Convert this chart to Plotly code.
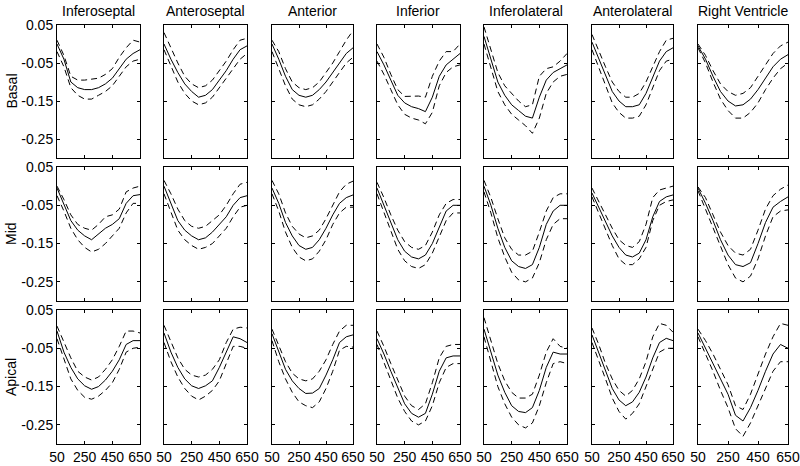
import plotly.graph_objects as go

# ---------------- data ----------------
time_ms = [50, 100, 150, 200, 250, 300, 350, 400, 450, 500, 550, 600, 650]
segments = ["Inferoseptal", "Anteroseptal", "Anterior", "Inferior",
            "Inferolateral", "Anterolateral", "Right Ventricle"]
levels = ["Basal", "Mid", "Apical"]
x_tick_vals = [50, 250, 450, 650]
y_tick_vals = [0.05, -0.05, -0.15, -0.25]
y_tick_text = ["0.05", "-0.05", "-0.15", "-0.25"]

# Basal
basal_inferoseptal_mean = [0.0, -0.04, -0.10, -0.115, -0.12, -0.12, -0.115, -0.105, -0.09, -0.065, -0.04, -0.025, -0.015]
basal_inferoseptal_upper = [0.01, -0.03, -0.085, -0.095, -0.095, -0.093, -0.09, -0.08, -0.065, -0.035, -0.01, 0.01, 0.005]
basal_inferoseptal_lower = [-0.02, -0.06, -0.115, -0.135, -0.145, -0.145, -0.135, -0.125, -0.11, -0.085, -0.06, -0.045, -0.04]

basal_anteroseptal_mean = [0.0, -0.04, -0.075, -0.105, -0.125, -0.14, -0.135, -0.12, -0.095, -0.07, -0.04, -0.015, -0.005]
basal_anteroseptal_upper = [0.03, -0.01, -0.05, -0.085, -0.105, -0.115, -0.11, -0.095, -0.07, -0.045, -0.015, 0.01, 0.015]
basal_anteroseptal_lower = [-0.015, -0.06, -0.10, -0.13, -0.15, -0.16, -0.155, -0.14, -0.115, -0.09, -0.065, -0.04, -0.025]

basal_anterior_mean = [0.0, -0.04, -0.085, -0.12, -0.135, -0.14, -0.135, -0.12, -0.10, -0.075, -0.05, -0.025, -0.01]
basal_anterior_upper = [0.01, -0.02, -0.065, -0.10, -0.115, -0.12, -0.115, -0.10, -0.075, -0.05, -0.02, 0.01, 0.035]
basal_anterior_lower = [-0.02, -0.065, -0.11, -0.145, -0.16, -0.165, -0.16, -0.145, -0.125, -0.10, -0.075, -0.05, -0.035]

basal_inferior_mean = [-0.02, -0.055, -0.095, -0.135, -0.155, -0.165, -0.17, -0.178, -0.14, -0.085, -0.055, -0.04, -0.025]
basal_inferior_upper = [0.0, -0.035, -0.08, -0.12, -0.138, -0.138, -0.137, -0.14, -0.085, -0.045, -0.02, -0.02, 0.0]
basal_inferior_lower = [-0.045, -0.08, -0.12, -0.16, -0.185, -0.195, -0.20, -0.21, -0.18, -0.11, -0.075, -0.06, -0.055]

basal_inferolateral_mean = [0.02, -0.04, -0.10, -0.135, -0.16, -0.175, -0.19, -0.195, -0.14, -0.095, -0.075, -0.065, -0.055]
basal_inferolateral_upper = [0.045, -0.015, -0.075, -0.11, -0.13, -0.15, -0.165, -0.16, -0.085, -0.065, -0.06, -0.045, -0.025]
basal_inferolateral_lower = [0.0, -0.065, -0.125, -0.16, -0.185, -0.20, -0.215, -0.235, -0.195, -0.13, -0.10, -0.085, -0.08]

basal_anterolateral_mean = [0.005, -0.04, -0.085, -0.125, -0.15, -0.165, -0.165, -0.16, -0.13, -0.085, -0.045, -0.02, -0.01]
basal_anterolateral_upper = [0.025, -0.02, -0.06, -0.10, -0.125, -0.14, -0.14, -0.13, -0.10, -0.06, -0.02, 0.01, 0.015]
basal_anterolateral_lower = [-0.015, -0.06, -0.11, -0.155, -0.18, -0.195, -0.195, -0.19, -0.16, -0.115, -0.07, -0.045, -0.04]

basal_rv_mean = [-0.005, -0.04, -0.085, -0.125, -0.15, -0.163, -0.16, -0.145, -0.12, -0.09, -0.06, -0.04, -0.028]
basal_rv_upper = [0.0, -0.03, -0.07, -0.105, -0.125, -0.135, -0.13, -0.115, -0.085, -0.055, -0.025, -0.005, 0.005]
basal_rv_lower = [-0.01, -0.05, -0.10, -0.145, -0.175, -0.195, -0.195, -0.18, -0.155, -0.12, -0.09, -0.065, -0.05]

# Mid
mid_inferoseptal_mean = [-0.005, -0.05, -0.09, -0.115, -0.13, -0.14, -0.125, -0.11, -0.10, -0.085, -0.045, -0.025, -0.022]
mid_inferoseptal_upper = [0.0, -0.035, -0.075, -0.10, -0.11, -0.115, -0.10, -0.08, -0.075, -0.06, -0.015, -0.005, 0.0]
mid_inferoseptal_lower = [-0.025, -0.065, -0.11, -0.14, -0.16, -0.172, -0.165, -0.15, -0.13, -0.11, -0.07, -0.045, -0.045]

mid_anteroseptal_mean = [0.0, -0.045, -0.09, -0.115, -0.13, -0.14, -0.135, -0.12, -0.10, -0.08, -0.05, -0.03, -0.025]
mid_anteroseptal_upper = [0.015, -0.02, -0.06, -0.09, -0.105, -0.11, -0.105, -0.09, -0.075, -0.05, -0.02, 0.005, 0.01]
mid_anteroseptal_lower = [-0.02, -0.065, -0.115, -0.14, -0.155, -0.165, -0.16, -0.15, -0.13, -0.11, -0.08, -0.055, -0.05]

mid_anterior_mean = [-0.005, -0.045, -0.095, -0.13, -0.155, -0.165, -0.16, -0.14, -0.11, -0.075, -0.045, -0.03, -0.023]
mid_anterior_upper = [0.015, -0.02, -0.07, -0.105, -0.125, -0.135, -0.13, -0.115, -0.085, -0.05, -0.015, 0.005, 0.013]
mid_anterior_lower = [-0.02, -0.065, -0.12, -0.16, -0.185, -0.195, -0.19, -0.17, -0.14, -0.10, -0.07, -0.055, -0.055]

mid_inferior_mean = [-0.005, -0.05, -0.10, -0.14, -0.17, -0.185, -0.19, -0.18, -0.15, -0.105, -0.065, -0.05, -0.05]
mid_inferior_upper = [0.01, -0.03, -0.075, -0.115, -0.145, -0.16, -0.165, -0.155, -0.12, -0.075, -0.045, -0.035, -0.035]
mid_inferior_lower = [-0.02, -0.07, -0.12, -0.165, -0.195, -0.21, -0.215, -0.205, -0.175, -0.13, -0.09, -0.07, -0.07]

mid_inferolateral_mean = [0.0, -0.05, -0.11, -0.16, -0.195, -0.21, -0.215, -0.205, -0.16, -0.10, -0.065, -0.05, -0.05]
mid_inferolateral_upper = [0.015, -0.03, -0.085, -0.135, -0.165, -0.18, -0.18, -0.17, -0.12, -0.065, -0.03, -0.02, -0.02]
mid_inferolateral_lower = [-0.015, -0.07, -0.135, -0.185, -0.225, -0.245, -0.25, -0.24, -0.20, -0.14, -0.10, -0.085, -0.085]

mid_anterolateral_mean = [-0.018, -0.055, -0.09, -0.13, -0.16, -0.18, -0.185, -0.175, -0.14, -0.08, -0.04, -0.028, -0.023]
mid_anterolateral_upper = [-0.005, -0.04, -0.075, -0.11, -0.14, -0.155, -0.16, -0.145, -0.10, -0.03, -0.01, -0.005, 0.0]
mid_anterolateral_lower = [-0.028, -0.07, -0.11, -0.155, -0.19, -0.205, -0.205, -0.19, -0.16, -0.09, -0.05, -0.04, -0.036]

mid_rv_mean = [-0.005, -0.045, -0.09, -0.14, -0.18, -0.205, -0.21, -0.20, -0.15, -0.095, -0.055, -0.04, -0.028]
mid_rv_upper = [-0.002, -0.03, -0.075, -0.12, -0.155, -0.175, -0.18, -0.165, -0.115, -0.06, -0.025, -0.008, 0.003]
mid_rv_lower = [-0.012, -0.06, -0.11, -0.16, -0.205, -0.24, -0.25, -0.235, -0.19, -0.13, -0.08, -0.065, -0.062]

# Apical
apical_inferoseptal_mean = [-0.005, -0.06, -0.10, -0.13, -0.148, -0.157, -0.15, -0.133, -0.11, -0.08, -0.04, -0.03, -0.03]
apical_inferoseptal_upper = [0.008, -0.035, -0.075, -0.11, -0.125, -0.133, -0.125, -0.105, -0.08, -0.045, -0.005, -0.005, -0.01]
apical_inferoseptal_lower = [-0.025, -0.075, -0.13, -0.16, -0.178, -0.183, -0.175, -0.16, -0.14, -0.105, -0.06, -0.05, -0.047]

apical_anteroseptal_mean = [-0.01, -0.06, -0.10, -0.13, -0.148, -0.155, -0.148, -0.135, -0.10, -0.06, -0.02, -0.025, -0.035]
apical_anteroseptal_upper = [0.01, -0.035, -0.075, -0.105, -0.12, -0.125, -0.12, -0.105, -0.08, -0.035, 0.0, 0.005, 0.003]
apical_anteroseptal_lower = [-0.035, -0.085, -0.125, -0.155, -0.175, -0.185, -0.175, -0.16, -0.135, -0.09, -0.045, -0.045, -0.05]

apical_anterior_mean = [-0.012, -0.06, -0.105, -0.135, -0.155, -0.168, -0.167, -0.155, -0.12, -0.08, -0.035, -0.02, -0.015]
apical_anterior_upper = [0.0, -0.045, -0.085, -0.115, -0.13, -0.135, -0.13, -0.11, -0.08, -0.04, -0.005, 0.01, 0.01]
apical_anterior_lower = [-0.03, -0.085, -0.13, -0.165, -0.19, -0.20, -0.205, -0.19, -0.155, -0.11, -0.055, -0.045, -0.047]

apical_inferior_mean = [-0.025, -0.065, -0.11, -0.155, -0.195, -0.22, -0.23, -0.22, -0.17, -0.11, -0.075, -0.07, -0.07]
apical_inferior_upper = [-0.005, -0.045, -0.09, -0.135, -0.175, -0.20, -0.21, -0.195, -0.14, -0.075, -0.045, -0.04, -0.04]
apical_inferior_lower = [-0.04, -0.085, -0.13, -0.18, -0.215, -0.24, -0.25, -0.24, -0.20, -0.14, -0.10, -0.09, -0.09]

apical_inferolateral_mean = [0.0, -0.06, -0.12, -0.165, -0.20, -0.215, -0.218, -0.205, -0.16, -0.10, -0.06, -0.065, -0.065]
apical_inferolateral_upper = [0.03, -0.03, -0.09, -0.135, -0.165, -0.18, -0.18, -0.17, -0.12, -0.06, -0.025, -0.045, -0.05]
apical_inferolateral_lower = [-0.02, -0.085, -0.15, -0.195, -0.23, -0.25, -0.258, -0.245, -0.20, -0.14, -0.09, -0.085, -0.09]

apical_anterolateral_mean = [-0.015, -0.06, -0.11, -0.155, -0.185, -0.20, -0.19, -0.165, -0.125, -0.075, -0.035, -0.024, -0.03]
apical_anterolateral_upper = [0.003, -0.04, -0.09, -0.13, -0.16, -0.175, -0.16, -0.13, -0.085, -0.02, 0.015, 0.01, -0.008]
apical_anterolateral_lower = [-0.035, -0.08, -0.13, -0.18, -0.215, -0.235, -0.22, -0.195, -0.15, -0.105, -0.06, -0.05, -0.05]

apical_rv_mean = [-0.01, -0.05, -0.09, -0.13, -0.17, -0.225, -0.24, -0.205, -0.16, -0.11, -0.065, -0.04, -0.05]
apical_rv_upper = [0.0, -0.03, -0.065, -0.105, -0.145, -0.20, -0.21, -0.17, -0.115, -0.065, -0.02, 0.015, 0.01]
apical_rv_lower = [-0.02, -0.065, -0.11, -0.16, -0.205, -0.26, -0.28, -0.245, -0.20, -0.155, -0.11, -0.085, -0.085]

panels = [
    [(basal_inferoseptal_mean, basal_inferoseptal_upper, basal_inferoseptal_lower),
     (basal_anteroseptal_mean, basal_anteroseptal_upper, basal_anteroseptal_lower),
     (basal_anterior_mean, basal_anterior_upper, basal_anterior_lower),
     (basal_inferior_mean, basal_inferior_upper, basal_inferior_lower),
     (basal_inferolateral_mean, basal_inferolateral_upper, basal_inferolateral_lower),
     (basal_anterolateral_mean, basal_anterolateral_upper, basal_anterolateral_lower),
     (basal_rv_mean, basal_rv_upper, basal_rv_lower)],
    [(mid_inferoseptal_mean, mid_inferoseptal_upper, mid_inferoseptal_lower),
     (mid_anteroseptal_mean, mid_anteroseptal_upper, mid_anteroseptal_lower),
     (mid_anterior_mean, mid_anterior_upper, mid_anterior_lower),
     (mid_inferior_mean, mid_inferior_upper, mid_inferior_lower),
     (mid_inferolateral_mean, mid_inferolateral_upper, mid_inferolateral_lower),
     (mid_anterolateral_mean, mid_anterolateral_upper, mid_anterolateral_lower),
     (mid_rv_mean, mid_rv_upper, mid_rv_lower)],
    [(apical_inferoseptal_mean, apical_inferoseptal_upper, apical_inferoseptal_lower),
     (apical_anteroseptal_mean, apical_anteroseptal_upper, apical_anteroseptal_lower),
     (apical_anterior_mean, apical_anterior_upper, apical_anterior_lower),
     (apical_inferior_mean, apical_inferior_upper, apical_inferior_lower),
     (apical_inferolateral_mean, apical_inferolateral_upper, apical_inferolateral_lower),
     (apical_anterolateral_mean, apical_anterolateral_upper, apical_anterolateral_lower),
     (apical_rv_mean, apical_rv_upper, apical_rv_lower)],
]

# ---------------- layout ----------------
W, H = 800, 466
col_px = [(57, 140), (164, 247), (272, 353), (377, 460), (484, 567), (592, 673), (698, 788)]
row_px = [(25, 158), (167, 301), (310, 444)]
FONT = "Liberation Sans, Arial, Helvetica, sans-serif"
FS = 14

fig = go.Figure()
layout = dict(
    template="none",
    width=W, height=H, autosize=False,
    margin=dict(l=0, r=0, t=0, b=0, pad=0, autoexpand=False),
    paper_bgcolor="white", plot_bgcolor="white",
    showlegend=False,
    font=dict(family=FONT, size=FS, color="black"),
)
annotations = []

for r in range(3):
    for c in range(7):
        k = r * 7 + c + 1
        xs = "x" if k == 1 else f"x{k}"
        ys = "y" if k == 1 else f"y{k}"
        mean, upper, lower = panels[r][c]
        for vals, dash in ((upper, "6px,4px"), (lower, "6px,4px"), (mean, "solid")):
            fig.add_trace(go.Scatter(
                x=time_ms, y=vals, mode="lines", xaxis=xs, yaxis=ys,
                line=dict(color="black", width=1, dash=dash),
                hoverinfo="skip"))
        x0, x1 = col_px[c]
        y0, y1 = row_px[r]
        common = dict(showline=True, linecolor="black", linewidth=1, mirror="ticks",
                      ticks="inside", ticklen=3, tickcolor="black", tickwidth=1,
                      showgrid=False, zeroline=False, fixedrange=True, automargin=False,
                      tickfont=dict(family=FONT, size=FS, color="black"))
        layout["xaxis" if k == 1 else f"xaxis{k}"] = dict(
            domain=[x0 / W, x1 / W], anchor=ys, range=[50, 650],
            tickvals=x_tick_vals, showticklabels=(r == 2), **common)
        layout["yaxis" if k == 1 else f"yaxis{k}"] = dict(
            domain=[1 - y1 / H, 1 - y0 / H], anchor=xs, range=[-0.30, 0.05],
            tickvals=y_tick_vals, ticktext=y_tick_text, showticklabels=(c == 0), **common)

for c, name in enumerate(segments):
    x0, x1 = col_px[c]
    annotations.append(dict(text=name, x=(x0 + x1) / 2 / W, y=1 - 11 / H,
                            xref="paper", yref="paper", showarrow=False,
                            xanchor="center", yanchor="middle",
                            font=dict(family=FONT, size=FS, color="black")))
for r, name in enumerate(levels):
    y0, y1 = row_px[r]
    annotations.append(dict(text=name, x=11 / W, y=1 - (y0 + y1) / 2 / H,
                            xref="paper", yref="paper", showarrow=False,
                            textangle=-90, xanchor="center", yanchor="middle",
                            font=dict(family=FONT, size=FS, color="black")))
layout["annotations"] = annotations
fig.update_layout(**layout)
fig.write_html("out.html", config={"responsive": False, "displayModeBar": False},
               post_script="document.body.style.margin='0';document.body.style.padding='0';"
                           "document.documentElement.style.overflow='hidden';")
